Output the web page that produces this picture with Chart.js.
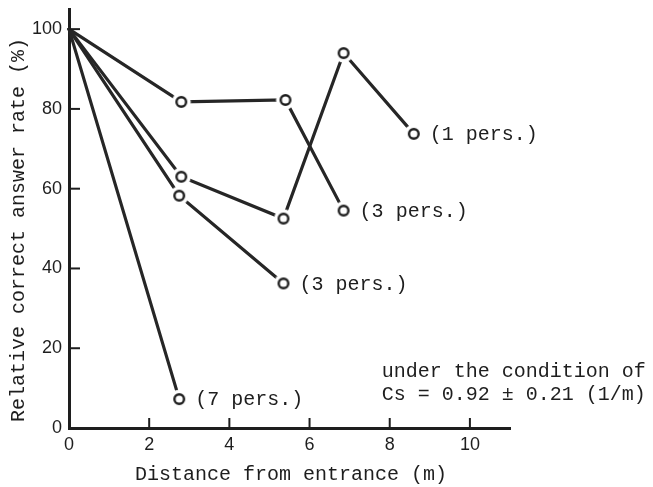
<!DOCTYPE html>
<html>
<head>
<meta charset="utf-8">
<script src="https://cdn.jsdelivr.net/npm/chart.js@4.4.1/dist/chart.umd.min.js"></script>
<style>
  html, body { margin: 0; padding: 0; background: #fff; }
  #wrap { width: 653px; height: 487px; }
</style>
</head>
<body>
<div id="wrap"><canvas id="chart" width="653" height="487"></canvas></div>
<script>
// values (distance in m, relative rate in %)
const onePersX = [0, 2.8, 5.35, 6.85, 8.6];
const onePersY = [100, 63, 52.5, 94, 73.75];
const threePersAX = [0, 2.8, 5.4, 6.85];
const threePersAY = [100, 81.75, 82.25, 54.5];
const threePersBX = [0, 2.75, 5.35];
const threePersBY = [100, 58.25, 36.25];
const sevenPersX = [0, 2.75];
const sevenPersY = [100, 7.25];
const seriesLabels = ["(1 pers.)", "(3 pers.)", "(3 pers.)", "(7 pers.)"];
const xTicks = [0, 2, 4, 6, 8, 10];
const yTicks = [0, 20, 40, 60, 80, 100];
const noteLines = ["under the condition of", "Cs = 0.92 \u00b1 0.21 (1/m)"];
const xTitle = "Distance from entrance (m)";
const yTitle = "Relative correct answer rate (%)";

const INK = "#1e1e1e";
const MONO = "'Liberation Mono', 'DejaVu Sans Mono', monospace";
const SANS = "'Liberation Sans', Arial, sans-serif";

// open circle marker with a white halo, so lines stop short of the circles
const marker = document.createElement("canvas");
marker.width = 22;
marker.height = 22;
const m = marker.getContext("2d");
m.fillStyle = "#fff";
m.beginPath();
m.arc(11, 11, 9.5, 0, 2 * Math.PI);
m.fill();
m.strokeStyle = INK;
m.lineWidth = 2.4;
m.beginPath();
m.arc(11, 11, 4.8, 0, 2 * Math.PI);
m.stroke();

const toPoints = (xs, ys) => xs.map((x, i) => ({ x: x, y: ys[i] }));
const series = [
  toPoints(onePersX, onePersY),
  toPoints(threePersAX, threePersAY),
  toPoints(threePersBX, threePersBY),
  toPoints(sevenPersX, sevenPersY),
];

// inner tick marks on both axes
const innerTicks = {
  id: "innerTicks",
  afterDraw(chart) {
    const { ctx, scales } = chart;
    const xs = scales.x, ys = scales.y;
    ctx.save();
    ctx.strokeStyle = INK;
    ctx.lineWidth = 2;
    xTicks.forEach((v) => {
      if (v === 0) return;
      const px = xs.getPixelForValue(v);
      ctx.beginPath();
      ctx.moveTo(px, ys.bottom);
      ctx.lineTo(px, ys.bottom - 10);
      ctx.stroke();
    });
    yTicks.forEach((v) => {
      if (v === 0) return;
      const py = ys.getPixelForValue(v);
      ctx.beginPath();
      ctx.moveTo(xs.left, py);
      ctx.lineTo(xs.left + 11, py);
      ctx.stroke();
    });
    ctx.restore();
  },
};

// series labels at the last point, axis titles and the condition note
const textLayer = {
  id: "textLayer",
  afterDatasetsDraw(chart) {
    const { ctx, scales } = chart;
    ctx.save();
    ctx.fillStyle = INK;
    ctx.font = "20px " + MONO;
    ctx.textBaseline = "middle";
    ctx.textAlign = "left";
    chart.data.datasets.forEach((ds, i) => {
      const pts = chart.getDatasetMeta(i).data;
      const last = pts[pts.length - 1];
      ctx.fillText(seriesLabels[i], last.x + 16, last.y + 1);
    });

    // note
    const nx = scales.x.getPixelForValue(7.8);
    ctx.fillText(noteLines[0], nx, scales.y.getPixelForValue(14));
    ctx.fillText(noteLines[1], nx, scales.y.getPixelForValue(8.25));

    // x title
    ctx.textAlign = "center";
    ctx.fillText(xTitle, 291, 475);

    // y title
    ctx.translate(19, 230);
    ctx.rotate(-Math.PI / 2);
    ctx.fillText(yTitle, 0, 0);
    ctx.restore();
  },
};

new Chart(document.getElementById("chart"), {
  type: "line",
  data: {
    datasets: series.map((pts, i) => ({
      label: seriesLabels[i],
      data: pts,
      borderColor: "#262626",
      borderWidth: 3.2,
      borderCapStyle: "round",
      tension: 0,
      fill: false,
      clip: false,
      pointStyle: marker,
      pointRadius: (ctx) => (ctx.dataIndex === 0 ? 0 : 6),
      pointHoverRadius: (ctx) => (ctx.dataIndex === 0 ? 0 : 6),
    })),
  },
  options: {
    responsive: false,
    animation: false,
    events: [],
    layout: { padding: { top: 8, right: 143, left: 0, bottom: 0 } },
    plugins: {
      legend: { display: false },
      tooltip: { enabled: false },
      title: { display: false },
    },
    scales: {
      x: {
        type: "linear",
        min: 0,
        max: 11,
        afterBuildTicks: (scale) => {
          scale.ticks = xTicks.map((v) => ({ value: v }));
        },
        afterFit: (scale) => {
          scale.height = 59;
          scale.paddingLeft = 0;
          scale.paddingRight = 0;
        },
        grid: { display: false, drawTicks: false },
        border: { display: true, color: INK, width: 3 },
        ticks: {
          padding: 6,
          color: INK,
          font: { family: SANS, size: 18 },
          autoSkip: false,
          maxRotation: 0,
          callback: (v) => String(v),
        },
      },
      y: {
        type: "linear",
        min: 0,
        max: 105,
        afterBuildTicks: (scale) => {
          scale.ticks = yTicks.map((v) => ({ value: v }));
        },
        afterFit: (scale) => {
          scale.width = 69;
          scale.paddingTop = 0;
          scale.paddingBottom = 0;
        },
        grid: { display: false, drawTicks: false },
        border: { display: true, color: INK, width: 3 },
        ticks: {
          padding: 7,
          color: INK,
          font: { family: SANS, size: 18 },
          autoSkip: false,
          callback: (v) => String(v),
        },
      },
    },
  },
  plugins: [innerTicks, textLayer],
});
</script>
</body>
</html>
